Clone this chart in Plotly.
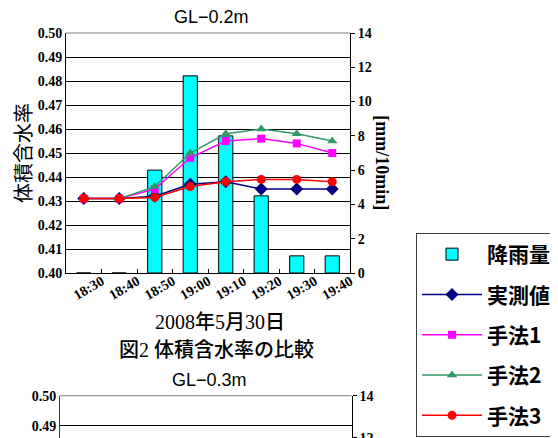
import plotly.graph_objects as go

W, H = 558, 438
OFF = 8  # page body margin in the browser

categories = ["18:30", "18:40", "18:50", "19:00", "19:10", "19:20", "19:30", "19:40"]
rainfall = [0, 0, 6.0, 11.5, 8.0, 4.5, 1.0, 1.0]
measured = [0.431, 0.431, 0.432, 0.437, 0.438, 0.435, 0.435, 0.435]
method1 = [0.431, 0.431, 0.435, 0.448, 0.455, 0.456, 0.454, 0.450]
method2 = [0.431, 0.431, 0.436, 0.450, 0.458, 0.460, 0.458, 0.455]
method3 = [0.431, 0.431, 0.4315, 0.436, 0.438, 0.439, 0.439, 0.438]

series_names = ["実測値", "手法1", "手法2", "手法3"]
left_range = [0.40, 0.50]
right_range = [0, 14]


def px(x):
    return (x - OFF) / W


def py(y):
    return 1 - (y - OFF) / H


serif = "Liberation Serif, Times New Roman, serif"
cjk = "Noto Sans CJK JP, sans-serif"
mixed = "Liberation Serif, Noto Sans CJK JP, serif"
tickfont = dict(family=serif, size=14, color="black", weight="bold")

fig = go.Figure()

fig.add_trace(go.Bar(
    x=categories, y=rainfall, name="降雨量", xaxis="x", yaxis="y",
    width=0.4, legendgroup="g0",
    marker=dict(color="#00FFFF", line=dict(color="black", width=1)),
))

styles = [
    ("#000080", "diamond", 10),
    ("#FF00FF", "square", 8),
    ("#339966", "triangle-up", 9),
    ("#FF0000", "circle", 9),
]
for i, (name, vals, (color, symbol, size)) in enumerate(
        zip(series_names, [measured, method1, method2, method3], styles)):
    fig.add_trace(go.Scatter(
        x=categories, y=vals, name=name, xaxis="x", yaxis="y2",
        mode="lines+markers", legendgroup="g%d" % (i + 1),
        line=dict(color=color, width=1.5),
        marker=dict(symbol=symbol, size=size, color=color),
    ))

# empty traces for the second (partially visible) chart
fig.add_trace(go.Scatter(x=[], y=[], xaxis="x2", yaxis="y3", showlegend=False))
fig.add_trace(go.Scatter(x=[], y=[], xaxis="x2", yaxis="y4", showlegend=False))


def ann(text, x, y, font, angle=0):
    return dict(text=text, x=px(x), y=py(y), xref="paper", yref="paper",
                xanchor="center", yanchor="middle", showarrow=False,
                textangle=angle, font=font)


fig.update_layout(
    width=W, height=H,
    margin=dict(l=0, r=0, t=0, b=0, autoexpand=False),
    paper_bgcolor="white", plot_bgcolor="white",
    showlegend=True,
    legend=dict(
        x=px(416), y=py(233), xanchor="left", yanchor="top",
        font=dict(family=cjk, size=21, color="black", weight="bold"),
        bordercolor="#404040", borderwidth=1, bgcolor="white",
        tracegroupgap=10, itemwidth=60,
    ),
    xaxis=dict(
        domain=[px(66), px(350)], anchor="y", type="category",
        range=[-0.5, 7.5], tickson="boundaries", ticks="inside", ticklen=4,
        tickcolor="black", showline=True, linecolor="black", linewidth=1,
        showgrid=False, tickangle=-30, ticklabelshift=18, ticklabelstandoff=-6,
        tickfont=dict(family=serif, size=14, color="black", weight="bold"),
    ),
    yaxis=dict(
        domain=[py(273), py(33)], anchor="x", side="right",
        range=right_range, dtick=2, ticks="outside", ticklen=4, tickcolor="black",
        showline=True, linecolor="black", linewidth=1, showgrid=False,
        zeroline=False, tickfont=tickfont,
    ),
    yaxis2=dict(
        overlaying="y", anchor="x", side="left",
        range=left_range, dtick=0.01, tickformat=".2f", ticks="",
        showline=True, linecolor="black", linewidth=1,
        showgrid=True, gridcolor="black", gridwidth=1, zeroline=False,
        tickfont=tickfont,
        title=dict(text="体積含水率", font=dict(family=cjk, size=20, color="black"),
                   standoff=6),
    ),
    xaxis2=dict(
        domain=[px(60), px(351.7)], anchor="y3", range=[0, 1],
        showticklabels=False, showgrid=False, showline=False, zeroline=False, ticks="",
    ),
    yaxis3=dict(
        domain=[0, py(395.7)], anchor="x2", side="left",
        range=[0.4833, 0.50], dtick=0.01, tickformat=".2f", ticks="",
        showline=True, linecolor="#404040", linewidth=1,
        showgrid=True, gridcolor="black", gridwidth=1, zeroline=False,
        tickfont=tickfont,
    ),
    yaxis4=dict(
        overlaying="y3", anchor="x2", side="right",
        range=[11.6, 14], dtick=2, ticks="outside", ticklen=4, tickcolor="black",
        showline=True, linecolor="black", linewidth=1, showgrid=False,
        zeroline=False, tickfont=tickfont,
    ),
    shapes=[
        dict(type="line", xref="x domain", yref="y domain", x0=0, x1=1, y0=1, y1=1,
             line=dict(color="#808080", width=1)),
        dict(type="line", xref="x2 domain", yref="y3 domain", x0=0, x1=1, y0=1, y1=1,
             line=dict(color="#808080", width=1)),
    ],
    annotations=[
        ann("GL−0.2m", 211.5, 17, dict(family="Liberation Sans, Arial", size=18, color="black")),
        ann("[mm/10min]", 381.7, 163, dict(family=serif, size=18, color="black", weight="bold"), 90),
        ann("2008年5月30日", 220, 321.7, dict(family=mixed, size=20, color="black", weight=500)),
        ann("図2 体積含水率の比較", 216, 350, dict(family=mixed, size=20, color="black", weight=500)),
        ann("GL−0.3m", 209, 380, dict(family="Liberation Sans, Arial", size=18, color="black")),
    ],
)

fig.write_html("out.html")
